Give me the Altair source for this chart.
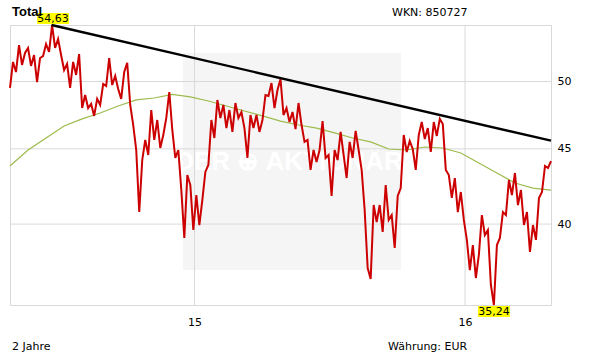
import altair as alt
import pandas as pd

START = "2014-04-27"
END = "2016-04-26"

# Daily-ish closing prices (EUR)
price = [
    49.50, 51.56, 50.75, 52.94, 51.32, 52.29, 52.70, 51.24, 52.12, 49.96,
    51.88, 52.04, 53.02, 52.37, 54.63, 52.70, 53.44, 52.12, 50.91, 51.40,
    49.50, 51.56, 50.52, 52.20, 47.97, 48.96, 47.97, 48.28, 47.38, 48.66,
    48.20, 49.81, 49.65, 51.88, 49.73, 50.44, 49.42, 48.66, 50.75, 51.48,
    48.20, 46.71, 44.92, 40.76, 44.22, 45.63, 44.57, 47.82, 45.63, 47.08,
    45.06, 45.99, 47.23, 49.19, 46.35, 44.36, 44.92, 42.19, 39.14, 43.19,
    42.52, 39.63, 41.86, 39.94, 41.54, 43.40, 43.88, 47.08, 45.77, 48.58,
    47.23, 48.20, 46.49, 47.82, 46.21, 48.35, 47.23, 47.67, 46.49, 44.36,
    47.45, 46.49, 47.45, 46.21, 47.08, 48.96, 48.89, 49.88, 47.97, 49.34,
    50.20, 47.45, 47.97, 46.93, 47.67, 46.42, 48.35, 46.71, 45.49, 45.63,
    43.54, 44.92, 44.08, 44.92, 47.00, 44.36, 44.57, 41.80, 44.92, 44.22,
    46.21, 44.57, 42.99, 45.49, 44.36, 46.28, 44.92, 43.54, 40.89, 37.34,
    36.71, 41.21, 40.13, 41.21, 39.51, 42.52, 40.26, 40.57, 38.53, 41.80,
    42.32, 45.99, 44.78, 45.56, 44.99, 43.54, 45.99, 46.93, 45.70, 46.49,
    44.78, 46.93, 45.92, 47.16, 46.78, 43.54, 43.19, 41.67, 42.99, 40.76,
    42.06, 40.26, 39.02, 37.22, 38.71, 36.76, 38.11, 40.57, 39.32, 39.63,
    36.36, 35.24, 38.71, 39.14, 40.76, 40.57, 42.86, 41.86, 43.33, 41.21,
    42.19, 39.94, 40.76, 38.29, 39.94, 39.02, 41.67, 42.06, 43.81, 43.67,
    44.15,
]

# 200-day moving average, one value every 6th price sample
ma200 = [
    43.81, 44.92, 45.77, 46.64, 47.16, 47.60, 48.12, 48.58, 48.73, 49.00,
    48.81, 48.50, 48.12, 47.75, 47.38, 47.00, 46.71, 46.49, 46.14, 45.77,
    45.49, 44.99, 44.92, 45.13, 45.06, 44.71, 44.01, 43.33, 42.66, 42.32,
    42.19,
]

trend_dates = ["2014-06-22", "2016-04-26"]
trend_values = [54.63, 45.58]

y_grid = [40, 45, 50]
x_grid = ["2015-01-01", "2016-01-01"]

extreme_labels = ["54,63", "35,24"]

FONT = "DejaVu Sans"
GRID = "#d9d9d9"

dates = pd.date_range(START, END, periods=len(price))
df = pd.DataFrame({"date": dates, "price": price})
ma_df = pd.DataFrame({"date": dates[::6], "price": ma200})
trend_df = pd.DataFrame({"date": pd.to_datetime(trend_dates), "price": trend_values})

imax = price.index(max(price))
imin = price.index(min(price))
max_df = pd.DataFrame({"date": [dates[imax]], "price": [price[imax]], "label": [extreme_labels[0]]})
min_df = pd.DataFrame({"date": [dates[imin]], "price": [price[imin]], "label": [extreme_labels[1]]})

hgrid_df = pd.DataFrame({"price": y_grid})
vgrid_df = pd.DataFrame({"date": pd.to_datetime(x_grid)})

xscale = alt.Scale(domain=[alt.DateTime(year=2014, month=4, date=27),
                           alt.DateTime(year=2016, month=4, date=26)])
yscale = alt.Scale(type="log", domain=[35.24, 54.63], nice=False, zero=False)

xaxis = alt.Axis(
    values=[alt.DateTime(year=2015, month=1, date=1), alt.DateTime(year=2016, month=1, date=1)],
    labelExpr="timeFormat(datum.value, '%y')", grid=False, ticks=False, domain=False,
    title=None, labelPadding=11, labelFont=FONT, labelFontSize=11, labelColor="black",
    labelFlush=False)
yaxis = alt.Axis(
    orient="right", values=y_grid, grid=False, ticks=False, domain=False, title=None,
    labelPadding=6, labelFont=FONT, labelFontSize=11, labelColor="black")

X = alt.X("date:T", scale=xscale, axis=xaxis)
Y = alt.Y("price:Q", scale=yscale, axis=yaxis)

watermark_box = alt.Chart(df.head(1)).mark_rect(color="#f5f5f5").encode(
    x=alt.value(173), x2=alt.value(391), y=alt.value(28), y2=alt.value(245)
)
watermark_text = alt.Chart(df.head(1)).mark_text(
    text="DER ⊕ AKTIONÄR", font="Liberation Sans", fontWeight="bold", fontSize=26,
    color="white", align="center", baseline="middle"
).encode(x=alt.value(279), y=alt.value(137))

hgrid = alt.Chart(hgrid_df).mark_rule(color=GRID, strokeWidth=1).encode(y=Y)
vgrid = alt.Chart(vgrid_df).mark_rule(color=GRID, strokeWidth=1).encode(x=X)

ma_line = alt.Chart(ma_df).mark_line(color="#9cbb4c", strokeWidth=1.2).encode(x=X, y=Y)

price_line = alt.Chart(df).mark_line(color="#cc0000", strokeWidth=2).encode(x=X, y=Y)

trend_line = alt.Chart(trend_df).mark_line(color="black", strokeWidth=2.4).encode(x=X, y=Y)

BOX = "M-1,-0.34L1,-0.34L1,0.34L-1,0.34Z"
max_box = alt.Chart(max_df).mark_point(shape=BOX, size=1024, filled=True, fill="#ffff00",
                                       strokeWidth=0, opacity=1, yOffset=-6.5, xOffset=1).encode(x=X, y=Y)
max_txt = alt.Chart(max_df).mark_text(font=FONT, fontSize=11, color="black", baseline="middle",
                                      yOffset=-6.5, dx=1).encode(x=X, y=Y, text="label:N")
min_box = alt.Chart(min_df).mark_point(shape=BOX, size=1024, filled=True, fill="#ffff00",
                                       strokeWidth=0, opacity=1, yOffset=6.5).encode(x=X, y=Y)
min_txt = alt.Chart(min_df).mark_text(font=FONT, fontSize=11, color="black", baseline="middle",
                                      yOffset=6.5).encode(x=X, y=Y, text="label:N")

def note(txt, x, y, align="left", weight="normal", size=11, font=FONT):
    return alt.Chart(df.head(1)).mark_text(
        text=txt, font=font, fontSize=size, fontWeight=weight, color="black",
        align=align, baseline="middle"
    ).encode(x=alt.value(x), y=alt.value(y))

title = note("Total", 2, -13, weight="bold", size=13, font="Liberation Sans")
wkn = note("WKN: 850727", 382, -12)
period = note("2 Jahre", 2, 322)
currency = note("Währung: EUR", 378, 322)

chart = alt.layer(
    watermark_box, watermark_text, hgrid, vgrid, ma_line, price_line, trend_line,
    max_box, min_box, title, max_txt, min_txt, wkn, period, currency
).properties(
    width=541, height=280,
    autosize=alt.AutoSizeParams(type="none"),
    padding={"left": 10, "top": 25, "right": 60, "bottom": 59},
    background="white",
).configure_view(stroke=GRID, strokeWidth=1)

chart.save("out.html", embed_options={"renderer": "svg", "actions": False})
